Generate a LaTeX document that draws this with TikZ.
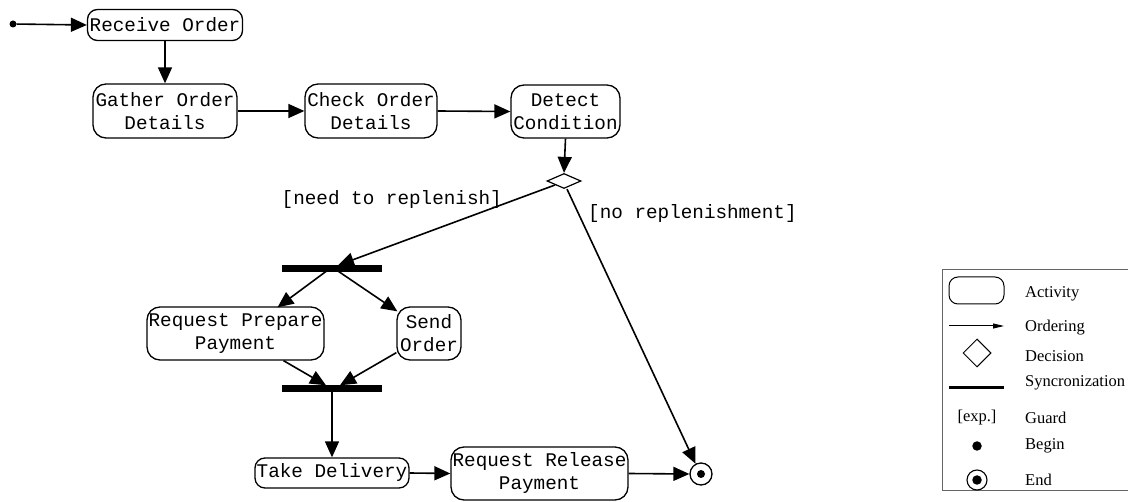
\documentclass[tikz,border=0pt]{standalone}
\usepackage{fontspec}
\setmonofont{Liberation Mono}
\newfontfamily\legfont{Liberation Serif}
\usetikzlibrary{arrows.meta,shapes.geometric}
\tikzset{
  act/.style={draw, line width=1.3pt, rounded corners=13pt, inner sep=0pt, align=center,
    font=\ttfamily\fontsize{19.3}{23}\selectfont},
  flow/.style={line width=1.6pt, -{Triangle[length=16pt,width=14pt]}},
  syncbar/.style={fill=black, draw=none, minimum width=100pt, minimum height=7pt, inner sep=0pt},
  guard/.style={font=\ttfamily\fontsize{19.3}{23}\selectfont, inner sep=0pt},
  legtext/.style={font=\legfont\fontsize{16.5}{19}\selectfont, inner sep=0pt, anchor=west},
}
\begin{document}
\begin{tikzpicture}[x=1pt,y=-1pt]
\clip (0,0) rectangle (1128,502);
\fill[white] (0,0) rectangle (1128,502);
% nodes
\node[circle, fill=black, inner sep=0pt, minimum size=7pt] (start) at (13,24) {};
\node[act, minimum width=155pt, minimum height=31pt, rounded corners=10pt] (recv) at (165,25) {Receive Order};
\node[act, minimum width=144pt, minimum height=54pt] (gather) at (165,111) {Gather Order\\Details};
\node[act, minimum width=132pt, minimum height=54pt] (check) at (371,111) {Check Order\\Details};
\node[act, minimum width=109pt, minimum height=53pt] (detect) at (565.5,111.5) {Detect\\Condition};
\node[diamond, draw, line width=1.2pt, minimum width=34pt, minimum height=15pt, inner sep=0pt, aspect=2.2] (dia) at (564,181) {};
\node[syncbar] (bar1) at (332,269) {};
\node[act, minimum width=177pt, minimum height=53pt] (rpp) at (235.5,333.5) {Request Prepare\\Payment};
\node[act, minimum width=64pt, minimum height=53pt] (send) at (429,333.5) {Send\\Order};
\node[syncbar] (bar2) at (332,389) {};
\node[act, minimum width=154pt, minimum height=30pt, rounded corners=10pt] (take) at (332,473) {Take Delivery};
\node[act, minimum width=177pt, minimum height=53pt] (rrp) at (539.5,473.5) {Request Release\\Payment};
\node[circle, draw, line width=1.3pt, minimum size=22pt, inner sep=0pt] (end) at (701,474) {};
\node[circle, fill=black, minimum size=8pt, inner sep=0pt] (enddot) at (end) {};
% guards
\node[guard, anchor=east] (g1) at (502,200) {[need to replenish]};
\node[guard, anchor=west] (g2) at (588,214) {[no replenishment]};
% edges
\draw[flow] (start) -- (recv.west);
\draw[flow] (recv.south) -- (gather.north);
\draw[flow] (gather.east) -- (check.west);
\draw[flow] (check.east) -- (detect.west);
\draw[flow] (detect.south) -- (dia.north);
\draw[flow] ([shift={(-9,4)}]dia.center) -- ([xshift=6pt]bar1.north);
\draw[flow] ([yshift=2pt]bar1.center) -- ([xshift=42pt,yshift=-1pt]rpp.north);
\draw[flow] ([yshift=2pt]bar1.center) -- ([shift={(1,5)}]send.north west);
\draw[flow] ([shift={(48,0)}]rpp.south) -- ([xshift=-6pt]bar2.north);
\draw[flow] ([shift={(0,-8)}]send.south west) -- ([xshift=8pt]bar2.north);
\draw[flow] (bar2.center) -- (take.north);
\draw[flow] (take.east) -- (rrp.west);
\draw[flow] (rrp.east) -- (end.west);
\draw[flow] ([xshift=3pt]dia.south) -- (end.118);
% legend
\draw[black!60, line width=1.2pt] (1140,269.5) -- (942.5,269.5) -- (942.5,490.5) -- (1140,490.5);
\node[draw, line width=1pt, rounded corners=9pt, minimum width=55pt, minimum height=27pt, inner sep=0pt] (lact) at (976.5,290.5) {};
\coordinate (lordA) at (949,326);
\coordinate (lordB) at (1004,326);
\draw[line width=1pt, -{Triangle[length=11pt,width=5pt]}] (lordA) -- (lordB);
\node[diamond, draw, line width=1pt, minimum width=28pt, minimum height=28pt, inner sep=0pt] (ldia) at (977,353) {};
\coordinate (lsynA) at (949,388);
\coordinate (lsynB) at (1004,388);
\draw[line width=3pt] (lsynA) -- (lsynB);
\node[legtext, anchor=center] (lexp) at (977,418) {[exp.]};
\node[circle, fill=black, minimum size=9.5pt, inner sep=0pt] (lbeg) at (977,446) {};
\node[circle, draw, line width=1.1pt, minimum size=20pt, inner sep=0pt] (lend) at (977,480) {};
\node[circle, fill=black, minimum size=9.5pt, inner sep=0pt] (lenddot) at (lend) {};
\node[legtext] (t1) at (1025,294) {Activity};
\node[legtext] (t2) at (1025,328) {Ordering};
\node[legtext] (t3) at (1025,356) {Decision};
\node[legtext] (t4) at (1025,383) {Syncronization};
\node[legtext] (t5) at (1025,418) {Guard};
\node[legtext] (t6) at (1025,446) {Begin};
\node[legtext] (t7) at (1025,480) {End};
\end{tikzpicture}
\end{document}
